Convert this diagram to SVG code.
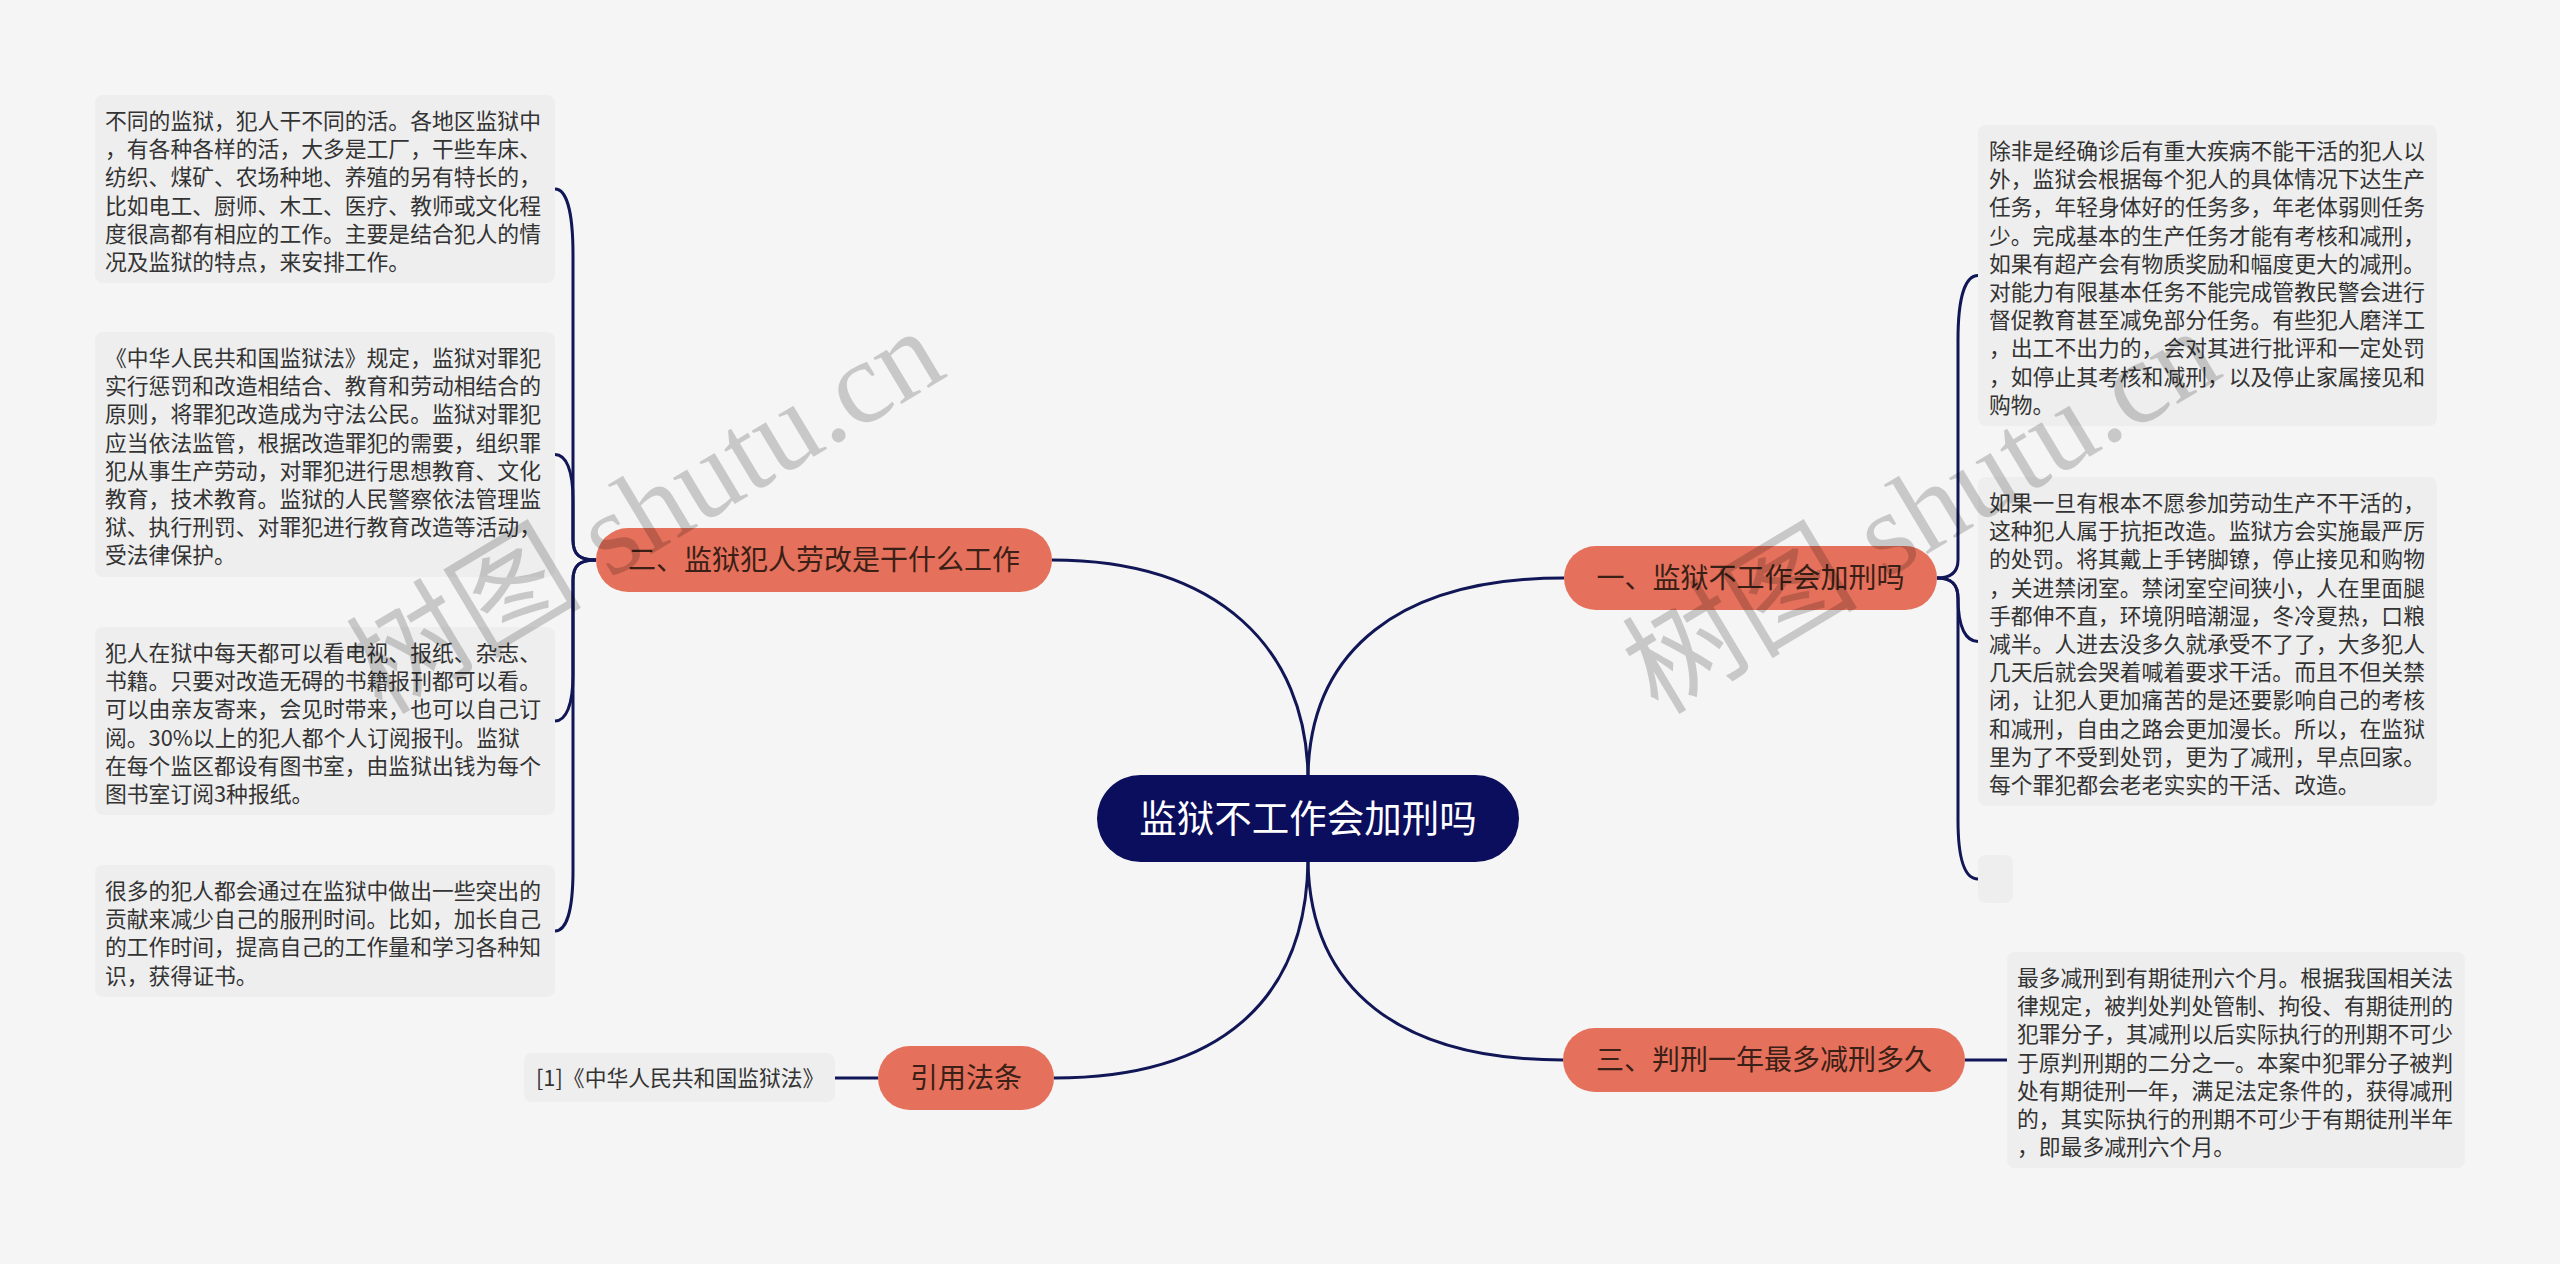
<svg xmlns="http://www.w3.org/2000/svg" width="2560" height="1264" viewBox="0 0 2560 1264">
<defs>
<style>
.leaf rect{fill:#eeeeee}
.leaf text{font-family:"Noto Sans CJK SC","Noto Sans",sans-serif;font-size:21.8px;fill:#333333}
.branch rect{fill:#e5705b}
.branch text{font-family:"Noto Sans CJK SC","Noto Sans",sans-serif;font-size:28px;fill:#3a2016;text-anchor:middle}
.root rect{fill:#0b0e5c}
.root text{font-family:"Noto Sans CJK SC","Noto Sans",sans-serif;font-size:37.5px;fill:#ffffff;text-anchor:middle}
.conn path{fill:none;stroke:#111656;stroke-width:3}
.wm{font-family:"Liberation Serif","Noto Sans CJK SC",serif;font-size:118px;fill:#000000;fill-opacity:0.18}
</style>
</defs>
<rect x="0" y="0" width="2560" height="1264" fill="#f5f5f5"/>

<g id="connectors" class="conn">
<path d="M1308,776 C1306,650 1220,560 1052,560"/>
<path d="M1308,776 C1310,650 1400,578 1564,578"/>
<path d="M1308,861 C1310,990 1400,1060 1563,1060"/>
<path d="M1308,861 C1306,1000 1220,1078 1054,1078"/>
<path d="M596,560 C580,560 573,555 573,540 L573,255 C573,210 566,189 555,189"/>
<path d="M596,560 C580,560 573,555 573,540 L573,500 C573,470 566,454.5 555,454.5"/>
<path d="M596,560 C580,560 573,565 573,580 L573,675 C573,705 566,721 555,721"/>
<path d="M596,560 C580,560 573,565 573,580 L573,870 C573,912 566,931 555,931"/>
<path d="M1937,578 C1950,578 1958,573 1958,560 L1958,340 C1958,295 1966,275.5 1978,275.5"/>
<path d="M1937,578 C1950,578 1958,583 1958,598 C1958,628 1966,641.5 1978,641.5"/>
<path d="M1937,578 C1950,578 1958,583 1958,598 L1958,820 C1958,862 1966,879 1978,879"/>
<path d="M1965,1060 L2007,1060"/>
<path d="M878,1078 L835,1078"/>
</g>

<g id="root" class="root">
<rect x="1097" y="775" width="422" height="87" rx="43.5"/>
<text x="1308" y="832">监狱不工作会加刑吗</text>
</g>

<g id="branch-2" class="branch">
<rect x="596" y="528" width="456" height="64" rx="32"/>
<text x="824" y="570">二、监狱犯人劳改是干什么工作</text>
</g>
<g id="branch-1" class="branch">
<rect x="1564" y="546" width="373" height="64" rx="32"/>
<text x="1750.5" y="588">一、监狱不工作会加刑吗</text>
</g>
<g id="branch-3" class="branch">
<rect x="1563" y="1028" width="402" height="64" rx="32"/>
<text x="1764" y="1070">三、判刑一年最多减刑多久</text>
</g>
<g id="branch-ref" class="branch">
<rect x="878" y="1046" width="176" height="64" rx="32"/>
<text x="966" y="1088">引用法条</text>
</g>

<g id="leaf-l1" class="leaf">
<rect x="95" y="95" width="460" height="188" rx="8"/>
<text x="105" y="129">
<tspan x="105">不同的监狱，犯人干不同的活。各地区监狱中</tspan>
<tspan x="105" dy="28.2">，有各种各样的活，大多是工厂，干些车床、</tspan>
<tspan x="105" dy="28.2">纺织、煤矿、农场种地、养殖的另有特长的，</tspan>
<tspan x="105" dy="28.2">比如电工、厨师、木工、医疗、教师或文化程</tspan>
<tspan x="105" dy="28.2">度很高都有相应的工作。主要是结合犯人的情</tspan>
<tspan x="105" dy="28.2">况及监狱的特点，来安排工作。</tspan>
</text>
</g>
<g id="leaf-l2" class="leaf">
<rect x="95" y="332" width="460" height="245" rx="8"/>
<text x="105" y="366">
<tspan x="105">《中华人民共和国监狱法》规定，监狱对罪犯</tspan>
<tspan x="105" dy="28.2">实行惩罚和改造相结合、教育和劳动相结合的</tspan>
<tspan x="105" dy="28.2">原则，将罪犯改造成为守法公民。监狱对罪犯</tspan>
<tspan x="105" dy="28.2">应当依法监管，根据改造罪犯的需要，组织罪</tspan>
<tspan x="105" dy="28.2">犯从事生产劳动，对罪犯进行思想教育、文化</tspan>
<tspan x="105" dy="28.2">教育，技术教育。监狱的人民警察依法管理监</tspan>
<tspan x="105" dy="28.2">狱、执行刑罚、对罪犯进行教育改造等活动，</tspan>
<tspan x="105" dy="28.2">受法律保护。</tspan>
</text>
</g>
<g id="leaf-l3" class="leaf">
<rect x="95" y="627" width="460" height="188" rx="8"/>
<text x="105" y="661">
<tspan x="105">犯人在狱中每天都可以看电视、报纸、杂志、</tspan>
<tspan x="105" dy="28.2">书籍。只要对改造无碍的书籍报刊都可以看。</tspan>
<tspan x="105" dy="28.2">可以由亲友寄来，会见时带来，也可以自己订</tspan>
<tspan x="105" dy="28.2">阅。30%以上的犯人都个人订阅报刊。监狱</tspan>
<tspan x="105" dy="28.2">在每个监区都设有图书室，由监狱出钱为每个</tspan>
<tspan x="105" dy="28.2">图书室订阅3种报纸。</tspan>
</text>
</g>
<g id="leaf-l4" class="leaf">
<rect x="95" y="865" width="460" height="132" rx="8"/>
<text x="105" y="899">
<tspan x="105">很多的犯人都会通过在监狱中做出一些突出的</tspan>
<tspan x="105" dy="28.2">贡献来减少自己的服刑时间。比如，加长自己</tspan>
<tspan x="105" dy="28.2">的工作时间，提高自己的工作量和学习各种知</tspan>
<tspan x="105" dy="28.2">识，获得证书。</tspan>
</text>
</g>
<g id="leaf-ref" class="leaf">
<rect x="524" y="1053" width="311" height="49" rx="8"/>
<text x="536" y="1086">[1]《中华人民共和国监狱法》</text>
</g>

<g id="leaf-r1" class="leaf">
<rect x="1978" y="125" width="459" height="301" rx="8"/>
<text x="1989" y="159">
<tspan x="1989">除非是经确诊后有重大疾病不能干活的犯人以</tspan>
<tspan x="1989" dy="28.2">外，监狱会根据每个犯人的具体情况下达生产</tspan>
<tspan x="1989" dy="28.2">任务，年轻身体好的任务多，年老体弱则任务</tspan>
<tspan x="1989" dy="28.2">少。完成基本的生产任务才能有考核和减刑，</tspan>
<tspan x="1989" dy="28.2">如果有超产会有物质奖励和幅度更大的减刑。</tspan>
<tspan x="1989" dy="28.2">对能力有限基本任务不能完成管教民警会进行</tspan>
<tspan x="1989" dy="28.2">督促教育甚至减免部分任务。有些犯人磨洋工</tspan>
<tspan x="1989" dy="28.2">，出工不出力的，会对其进行批评和一定处罚</tspan>
<tspan x="1989" dy="28.2">，如停止其考核和减刑，以及停止家属接见和</tspan>
<tspan x="1989" dy="28.2">购物。</tspan>
</text>
</g>
<g id="leaf-r2" class="leaf">
<rect x="1978" y="477" width="459" height="329" rx="8"/>
<text x="1989" y="511">
<tspan x="1989">如果一旦有根本不愿参加劳动生产不干活的，</tspan>
<tspan x="1989" dy="28.2">这种犯人属于抗拒改造。监狱方会实施最严厉</tspan>
<tspan x="1989" dy="28.2">的处罚。将其戴上手铐脚镣，停止接见和购物</tspan>
<tspan x="1989" dy="28.2">，关进禁闭室。禁闭室空间狭小，人在里面腿</tspan>
<tspan x="1989" dy="28.2">手都伸不直，环境阴暗潮湿，冬冷夏热，口粮</tspan>
<tspan x="1989" dy="28.2">减半。人进去没多久就承受不了了，大多犯人</tspan>
<tspan x="1989" dy="28.2">几天后就会哭着喊着要求干活。而且不但关禁</tspan>
<tspan x="1989" dy="28.2">闭，让犯人更加痛苦的是还要影响自己的考核</tspan>
<tspan x="1989" dy="28.2">和减刑，自由之路会更加漫长。所以，在监狱</tspan>
<tspan x="1989" dy="28.2">里为了不受到处罚，更为了减刑，早点回家。</tspan>
<tspan x="1989" dy="28.2">每个罪犯都会老老实实的干活、改造。</tspan>
</text>
</g>
<g id="leaf-r3" class="leaf">
<rect x="1978" y="855" width="35" height="48" rx="8"/>
</g>
<g id="leaf-r4" class="leaf">
<rect x="2007" y="952" width="458" height="216" rx="8"/>
<text x="2017" y="986">
<tspan x="2017">最多减刑到有期徒刑六个月。根据我国相关法</tspan>
<tspan x="2017" dy="28.2">律规定，被判处判处管制、拘役、有期徒刑的</tspan>
<tspan x="2017" dy="28.2">犯罪分子，其减刑以后实际执行的刑期不可少</tspan>
<tspan x="2017" dy="28.2">于原判刑期的二分之一。本案中犯罪分子被判</tspan>
<tspan x="2017" dy="28.2">处有期徒刑一年，满足法定条件的，获得减刑</tspan>
<tspan x="2017" dy="28.2">的，其实际执行的刑期不可少于有期徒刑半年</tspan>
<tspan x="2017" dy="28.2">，即最多减刑六个月。</tspan>
</text>
</g>

<g id="watermarks">
<text class="wm" transform="translate(382,716) rotate(-31)">树图 shutu.cn</text>
<text class="wm" transform="translate(1658,716) rotate(-31)">树图 shutu.cn</text>
</g>
</svg>
